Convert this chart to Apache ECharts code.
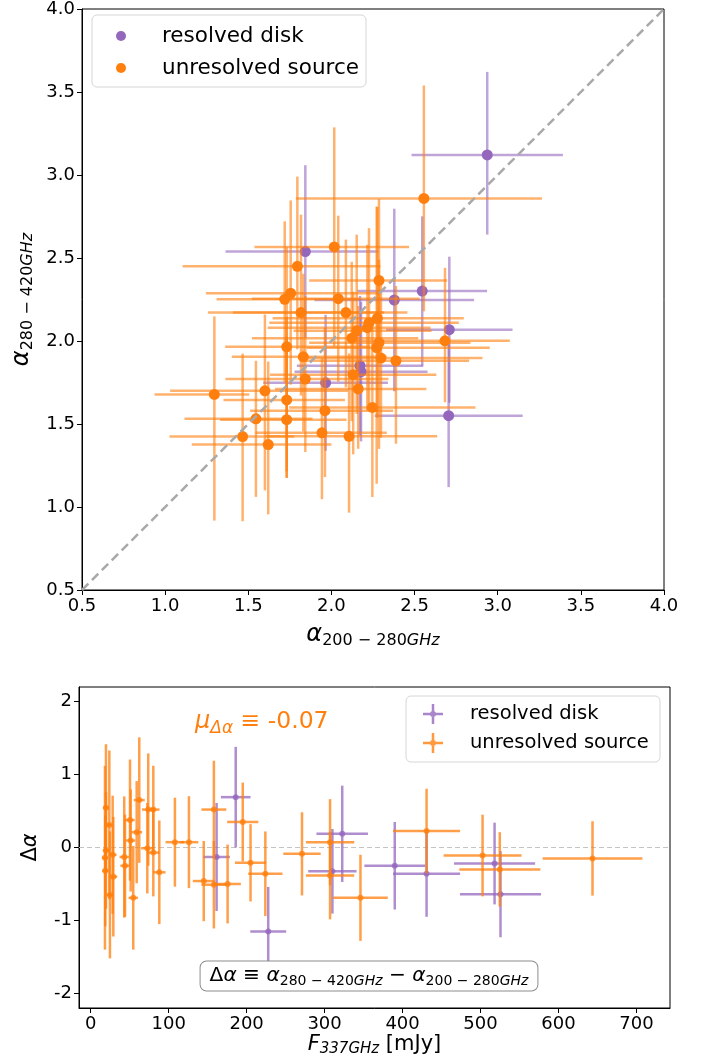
<!DOCTYPE html>
<html><head><meta charset="utf-8">
<script src="https://cdn.jsdelivr.net/npm/echarts@6/dist/echarts.min.js"></script>
<style>html,body{margin:0;padding:0;background:#fff}#c{width:710px;height:1059px}</style>
</head><body><div id="c"></div>
<script>
// ---------- top panel: alpha(280-420) vs alpha(200-280) ----------
const topDiskX   = [2.937,1.843,2.378,2.546,2.709,2.705,2.172,2.178,1.965];
const topDiskY   = [3.121,2.539,2.247,2.301,2.068,1.550,1.851,1.815,1.748];
const topDiskXLo = [0.455,0.48,0.48,0.39,0.38,0.445,0.38,0.40,0.375];
const topDiskXHi = [0.455,0.44,0.48,0.39,0.38,0.445,0.38,0.40,0.375];
const topDiskYLo = [0.48,0.52,0.55,0.45,0.44,0.43,0.42,0.42,0.41];
const topDiskYHi = [0.50,0.52,0.55,0.45,0.44,0.43,0.42,0.42,0.41];

const topSrcX   = [2.556,2.017,1.795,1.755,1.719,1.817,2.041,2.087,2.286,2.276,2.226,2.216,2.152,2.122,2.286,2.272,2.298,2.388,2.683,1.831,1.843,2.131,2.161,2.246,1.961,1.943,2.106,1.731,1.296,1.600,1.731,1.546,1.731,1.466,1.620];
const topSrcY   = [2.859,2.567,2.450,2.287,2.251,2.171,2.255,2.171,2.365,2.137,2.110,2.080,2.061,2.017,1.990,1.960,1.897,1.881,2.001,1.905,1.771,1.797,1.711,1.600,1.580,1.447,1.426,1.965,1.678,1.700,1.645,1.531,1.526,1.424,1.376];
const topSrcXLo = [0.77,0.48,0.69,0.51,0.41,0.56,0.52,0.68,0.42,0.63,0.60,0.60,0.38,0.60,0.42,0.42,0.50,0.55,0.55,0.43,0.48,0.50,0.50,0.50,0.45,0.40,0.50,0.37,0.36,0.57,0.38,0.43,0.40,0.44,0.46];
const topSrcXHi = [0.71,0.45,0.50,0.54,0.45,0.50,0.49,0.37,0.41,0.52,0.54,0.38,0.45,0.40,0.55,0.68,0.61,0.44,0.39,0.50,0.50,0.50,0.41,0.62,0.41,0.39,0.53,0.50,0.21,0.50,0.35,0.34,0.36,0.31,0.38];
const topSrcYLo = [0.68,0.60,0.50,0.55,0.50,0.50,0.50,0.45,0.50,0.60,0.50,0.50,0.50,0.50,0.64,0.82,0.48,0.50,0.37,0.45,0.44,0.48,0.36,0.54,0.40,0.40,0.46,0.75,0.76,0.60,0.47,0.47,0.35,0.51,0.42];
const topSrcYHi = [0.68,0.72,0.54,0.56,0.47,0.59,0.50,0.44,0.49,0.67,0.57,0.50,0.58,0.46,0.50,0.85,0.45,0.45,0.44,0.50,0.50,0.50,0.50,0.50,0.50,0.45,0.50,0.60,0.47,0.46,0.50,0.35,0.50,0.50,0.50];
const topTicks = [0.5,1.0,1.5,2.0,2.5,3.0,3.5,4.0];

// ---------- bottom panel: delta alpha vs flux ----------
const botDiskF    = [161.5,186,227.7,310,322.6,390,430.8,518,525.6];
const botDiskD    = [-0.13,0.69,-1.15,-0.326,0.188,-0.25,-0.36,-0.22,-0.64];
const botDiskFErr = [17,19,23,31,33,39,43,52,52];
const botDiskDErr = [0.74,0.69,0.61,0.58,0.66,0.60,0.59,0.56,0.59];

const botSrcF    = [19.6,23.9,19.6,18.3,28.2,18.7,29,24.7,43,44,50.4,51.3,59,62.3,54.6,72.6,73.8,80.3,80.3,88,108,126,145,158,158,175.6,195,205,224,271,307,307,346,430.8,502.6,524.7,643.6];
const botSrcD    = [0.546,0.31,-0.04,-0.14,-0.10,-0.32,-0.40,-0.65,-0.13,-0.25,0.376,0.096,0.21,0.65,-0.69,-0.01,0.52,0.52,-0.07,-0.34,0.073,0.073,-0.46,0.52,-0.51,-0.50,0.35,-0.21,-0.36,-0.087,0.073,-0.385,-0.69,0.225,-0.11,-0.30,-0.15];
const botSrcFErr = [4,4,4,4,5,4,5,4,6,6,6,6,7,7,6,8,8,8,8,8,12,12,14,16,16,17,20,20,22,24,31,31,35,43,50,52,64];
const botSrcDErr = [0.87,1.02,0.80,1.26,0.81,0.76,0.82,0.87,0.83,0.70,0.83,0.70,0.70,0.86,0.71,0.62,0.77,0.60,0.60,0.71,0.61,0.63,0.55,0.67,0.60,0.54,0.54,0.53,0.58,0.57,0.59,0.60,0.59,0.58,0.56,0.51,0.51];
const botXTicks = [0,100,200,300,400,500,600,700];
const botYTicks = [-2,-1,0,1,2];
const meanDelta = '-0.07';

const PURPLE = '#9467bd', ORANGE = '#ff7f0e';
const PURPLE_A = 'rgba(148,103,189,0.6)', ORANGE_A = 'rgba(255,127,14,0.6)';
const PURPLE_B = 'rgba(148,103,189,0.75)', ORANGE_B = 'rgba(255,127,14,0.75)';
const FONT = 'DejaVu Sans';

function rows(x, y, xl, xh, yl, yh) { return x.map((v, i) => [v, y[i], xl[i], xh[i], yl[i], yh[i]]); }

function errRenderer(color, lw, dotR) {
  return function (params, api) {
    const x = api.value(0), y = api.value(1);
    const c = api.coord([x, y]);
    const l = api.coord([x - api.value(2), y]);
    const r = api.coord([x + api.value(3), y]);
    const b = api.coord([x, y - api.value(4)]);
    const t = api.coord([x, y + api.value(5)]);
    const ch = [
      { type: 'line', shape: { x1: l[0], y1: c[1], x2: r[0], y2: c[1] }, style: { stroke: color, lineWidth: lw } },
      { type: 'line', shape: { x1: c[0], y1: b[1], x2: c[0], y2: t[1] }, style: { stroke: color, lineWidth: lw } }
    ];
    if (dotR) ch.push({ type: 'circle', shape: { cx: c[0], cy: c[1], r: dotR }, style: { fill: color } });
    return { type: 'group', children: ch };
  };
}

const alphaRich = {
  a: { fontFamily: FONT, fontSize: 24, fontStyle: 'italic', color: '#000' },
  s: { fontFamily: FONT, fontSize: 16, padding: [12, 0, 0, 0], color: '#000' },
  g: { fontFamily: FONT, fontSize: 16, fontStyle: 'italic', padding: [12, 0, 0, 0], color: '#000' }
};

const axisCommon = {
  axisLine: { show: true, onZero: false, lineStyle: { color: '#000', width: 1 } },
  axisTick: { show: true, length: 5, lineStyle: { color: '#000', width: 1 } },
  splitLine: { show: false },
  axisLabel: { color: '#000', fontSize: 18, fontFamily: FONT, margin: 7 }
};

const ERR_ICON = 'path://M0,8.75H20V11.25H0Z M8.75,0H11.25V20H8.75Z M7,10A3,3,0,1,1,13,10A3,3,0,1,1,7,10Z';

const chart = echarts.init(document.getElementById('c'), null, { renderer: 'canvas' });
const botXMin = -15, botXMax = 743;

chart.setOption({
  animation: false,
  backgroundColor: '#fff',
  grid: [
    { left: 82, top: 7, width: 582, height: 583, show: true, borderColor: '#000', borderWidth: 1, backgroundColor: 'transparent' },
    { left: 79, top: 687, width: 591, height: 321, show: true, borderColor: '#000', borderWidth: 1, backgroundColor: 'transparent' }
  ],
  xAxis: [
    Object.assign({}, axisCommon, {
      gridIndex: 0, type: 'value', min: 0.5, max: 4.0, interval: 0.5,
      axisLabel: Object.assign({}, axisCommon.axisLabel, { formatter: v => v.toFixed(1) }),
      name: '{a|α}{s|200 − 280}{g|GHz}', nameLocation: 'middle', nameGap: 31,
      nameTextStyle: { rich: alphaRich }
    }),
    Object.assign({}, axisCommon, {
      gridIndex: 1, type: 'value', min: botXMin, max: botXMax,
      axisTick: Object.assign({}, axisCommon.axisTick, { customValues: botXTicks }),
      axisLabel: Object.assign({}, axisCommon.axisLabel, { customValues: botXTicks }),
      name: '{f|F}{g|337GHz}{t| [mJy]}', nameLocation: 'middle', nameGap: 23,
      nameTextStyle: { rich: {
        f: { fontFamily: FONT, fontSize: 21, fontStyle: 'italic', color: '#000' },
        g: { fontFamily: FONT, fontSize: 15, fontStyle: 'italic', padding: [10, 0, 0, 0], color: '#000' },
        t: { fontFamily: FONT, fontSize: 21, color: '#000' }
      } }
    })
  ],
  yAxis: [
    Object.assign({}, axisCommon, {
      gridIndex: 0, type: 'value', min: 0.5, max: 4.0, interval: 0.5,
      axisLabel: Object.assign({}, axisCommon.axisLabel, { formatter: v => v.toFixed(1) }),
      name: '{a|α}{s|280 − 420}{g|GHz}', nameLocation: 'middle', nameGap: 46, nameRotate: 90,
      nameTextStyle: { rich: alphaRich }
    }),
    Object.assign({}, axisCommon, {
      gridIndex: 1, type: 'value', min: -2.2, max: 2.2,
      axisTick: Object.assign({}, axisCommon.axisTick, { customValues: botYTicks }),
      axisLabel: Object.assign({}, axisCommon.axisLabel, { customValues: botYTicks }),
      name: '{d|Δ}{a|α}', nameLocation: 'middle', nameGap: 38, nameRotate: 90,
      nameTextStyle: { rich: {
        d: { fontFamily: FONT, fontSize: 21, color: '#000' },
        a: { fontFamily: FONT, fontSize: 21, fontStyle: 'italic', color: '#000' }
      } }
    })
  ],
  legend: [
    {
      left: 116, top: 24, orient: 'vertical', itemWidth: 10, itemHeight: 10, itemGap: 8, padding: 0,
      selectedMode: false, z: 10,
      data: [{ name: 'resolved disk', icon: 'circle' }, { name: 'unresolved source', icon: 'circle' }],
      textStyle: { fontFamily: FONT, fontSize: 21.5, color: '#000', lineHeight: 24, padding: [0, 0, 0, 31] }
    },
    {
      left: 423, top: 703, orient: 'vertical', itemWidth: 20, itemHeight: 20, itemGap: 7, padding: 0,
      selectedMode: false, z: 10,
      itemStyle: { opacity: 0.8 },
      data: [{ name: 'resolved disk', icon: ERR_ICON }, { name: 'unresolved source', icon: ERR_ICON }],
      textStyle: { fontFamily: FONT, fontSize: 19.5, color: '#000', lineHeight: 22, padding: [0, 0, 0, 22] }
    }
  ],
  graphic: [
    { type: 'rect', z: 5, shape: { x: 92, y: 15, width: 274, height: 72, r: 5 },
      style: { fill: 'rgba(255,255,255,0.8)', stroke: '#d6d6d6', lineWidth: 1 } },
    { type: 'rect', z: 5, shape: { x: 406, y: 696, width: 254, height: 66, r: 5 },
      style: { fill: 'rgba(255,255,255,0.8)', stroke: '#d6d6d6', lineWidth: 1 } },
    { type: 'text', z: 10, x: 195, y: 722,
      style: {
        text: '{m|μ}{s|Δα}{t| ≡ ' + meanDelta + '}',
        align: 'left', verticalAlign: 'middle',
        rich: {
          m: { fontFamily: FONT, fontSize: 24, fontStyle: 'italic', fill: ORANGE, color: ORANGE },
          s: { fontFamily: FONT, fontSize: 17, fontStyle: 'italic', padding: [13, 0, 0, 0], fill: ORANGE, color: ORANGE },
          t: { fontFamily: FONT, fontSize: 23.5, fill: ORANGE, color: ORANGE }
        }
      } },
    { type: 'text', z: 10, x: 369, y: 976,
      style: {
        text: '{d|Δ}{a|α}{t| ≡ }{a|α}{s|280 − 420}{g|GHz}{t| − }{a|α}{s|200 − 280}{g|GHz}',
        align: 'center', verticalAlign: 'middle',
        backgroundColor: '#fff', borderColor: '#8c8c8c', borderWidth: 1, borderRadius: 6, padding: [2, 9, 2, 9],
        rich: {
          d: { fontFamily: FONT, fontSize: 20.2, fill: '#000', color: '#000' },
          a: { fontFamily: FONT, fontSize: 20.2, fontStyle: 'italic', fill: '#000', color: '#000' },
          t: { fontFamily: FONT, fontSize: 20.2, fill: '#000', color: '#000' },
          s: { fontFamily: FONT, fontSize: 14, padding: [11, 0, 0, 0], fill: '#000', color: '#000' },
          g: { fontFamily: FONT, fontSize: 14, fontStyle: 'italic', padding: [11, 0, 0, 0], fill: '#000', color: '#000' }
        }
      } }
  ],
  series: [
    // top panel
    { type: 'custom', name: 'resolved disk', xAxisIndex: 0, yAxisIndex: 0, itemStyle: { color: PURPLE },
      encode: { x: 0, y: 1 }, data: rows(topDiskX, topDiskY, topDiskXLo, topDiskXHi, topDiskYLo, topDiskYHi),
      renderItem: errRenderer(PURPLE_A, 2.5, 0), z: 2, silent: true },
    { type: 'scatter', name: 'resolved disk', xAxisIndex: 0, yAxisIndex: 0, symbol: 'circle', symbolSize: 11,
      itemStyle: { color: PURPLE, opacity: 1 }, data: topDiskX.map((v, i) => [v, topDiskY[i]]), z: 3, silent: true },
    { type: 'custom', name: 'unresolved source', xAxisIndex: 0, yAxisIndex: 0, itemStyle: { color: ORANGE },
      encode: { x: 0, y: 1 }, data: rows(topSrcX, topSrcY, topSrcXLo, topSrcXHi, topSrcYLo, topSrcYHi),
      renderItem: errRenderer(ORANGE_A, 2.5, 0), z: 4, silent: true },
    { type: 'scatter', name: 'unresolved source', xAxisIndex: 0, yAxisIndex: 0, symbol: 'circle', symbolSize: 11,
      itemStyle: { color: ORANGE, opacity: 1 }, data: topSrcX.map((v, i) => [v, topSrcY[i]]), z: 5, silent: true },
    { type: 'line', name: 'one-to-one', xAxisIndex: 0, yAxisIndex: 0, data: [[topTicks[0], topTicks[0]], [topTicks[topTicks.length - 1], topTicks[topTicks.length - 1]]],
      symbol: 'none', lineStyle: { color: '#a9a9a9', width: 2.5, type: [9, 5] }, z: 6, silent: true },
    // bottom panel
    { type: 'line', name: 'zero', xAxisIndex: 1, yAxisIndex: 1, data: [[botXMin, 0], [botXMax, 0]],
      symbol: 'none', lineStyle: { color: '#c4c4c4', width: 1.2, type: [5, 3] }, z: 1, silent: true },
    { type: 'custom', name: 'resolved disk', xAxisIndex: 1, yAxisIndex: 1, itemStyle: { color: PURPLE },
      encode: { x: 0, y: 1 },
      data: rows(botDiskF, botDiskD, botDiskFErr, botDiskFErr, botDiskDErr, botDiskDErr),
      renderItem: errRenderer(PURPLE_B, 2.5, 3), z: 2, silent: true },
    { type: 'custom', name: 'unresolved source', xAxisIndex: 1, yAxisIndex: 1, itemStyle: { color: ORANGE },
      encode: { x: 0, y: 1 },
      data: rows(botSrcF, botSrcD, botSrcFErr, botSrcFErr, botSrcDErr, botSrcDErr),
      renderItem: errRenderer(ORANGE_B, 2.5, 3), z: 3, silent: true }
  ]
});
</script></body></html>
